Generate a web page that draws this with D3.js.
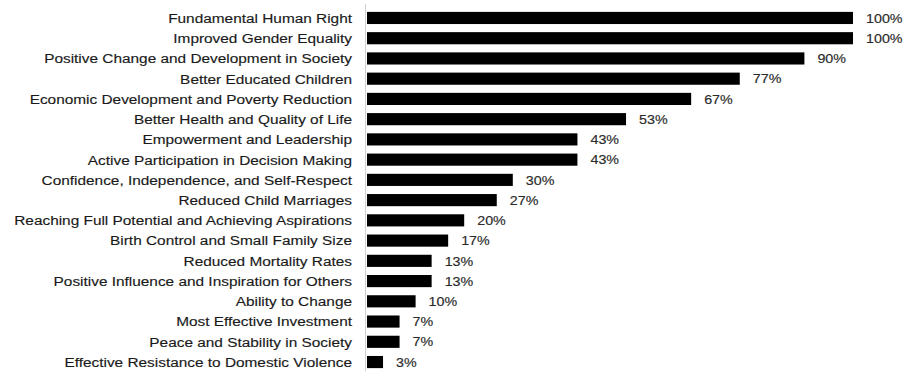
<!DOCTYPE html>
<html>
<head>
<meta charset="utf-8">
<script src="https://cdn.jsdelivr.net/npm/d3@7"></script>
<style>
  html, body { margin: 0; padding: 0; background: #fff; }
  svg { display: block; }
  text { font-family: "Liberation Sans", Arial, sans-serif; }
</style>
</head>
<body>
<svg id="chart" width="904" height="371"></svg>
<script>
const categories = [
  "Fundamental Human Right",
  "Improved Gender Equality",
  "Positive Change and Development in Society",
  "Better Educated Children",
  "Economic Development and Poverty Reduction",
  "Better Health and Quality of Life",
  "Empowerment and Leadership",
  "Active Participation in Decision Making",
  "Confidence, Independence, and Self-Respect",
  "Reduced Child Marriages",
  "Reaching Full Potential and Achieving Aspirations",
  "Birth Control and Small Family Size",
  "Reduced Mortality Rates",
  "Positive Influence and Inspiration for Others",
  "Ability to Change",
  "Most Effective Investment",
  "Peace and Stability in Society",
  "Effective Resistance to Domestic Violence"
];
const values = [100, 100, 90, 76.7, 66.7, 53.3, 43.3, 43.3, 30, 26.7, 20, 16.7, 13.3, 13.3, 10, 6.7, 6.7, 3.3];
const valueLabels = ["100%", "100%", "90%", "77%", "67%", "53%", "43%", "43%", "30%", "27%", "20%", "17%", "13%", "13%", "10%", "7%", "7%", "3%"];

const svg = d3.select("#chart");
const x = d3.scaleLinear().domain([0, 100]).range([367, 853]);
const y = d3.scaleBand().domain(categories).range([3.8, 376.2]).padding(0.4);

// axis line
svg.append("line")
  .attr("x1", 365.5).attr("x2", 365.5)
  .attr("y1", 4).attr("y2", 371)
  .attr("stroke", "#d0d0d0").attr("stroke-width", 1);

svg.selectAll("rect.bar")
  .data(values)
  .join("rect")
  .attr("class", "bar")
  .attr("x", x(0))
  .attr("y", (d, i) => y(categories[i]))
  .attr("width", d => x(d) - x(0))
  .attr("height", y.bandwidth())
  .attr("fill", "#000");

svg.selectAll("text.cat")
  .data(categories)
  .join("text")
  .attr("class", "cat")
  .attr("transform", d => `translate(352,${y(d) + y.bandwidth() / 2}) scale(1.14,1)`)
  .attr("dy", "0.36em")
  .attr("text-anchor", "end")
  .attr("font-size", 13.5)
  .attr("fill", "#1a1a1a")
  .attr("stroke", "#1a1a1a")
  .attr("stroke-width", 0.15)
  .text(d => d);

svg.selectAll("text.val")
  .data(values)
  .join("text")
  .attr("class", "val")
  .attr("transform", (d, i) => `translate(${x(d) + 13},${y(categories[i]) + y.bandwidth() / 2}) scale(1.1,1)`)
  .attr("dy", "0.36em")
  .attr("font-size", 13)
  .attr("fill", "#2a2a2a")
  .attr("stroke", "#2a2a2a")
  .attr("stroke-width", 0.15)
  .text((d, i) => valueLabels[i]);
</script>
</body>
</html>
